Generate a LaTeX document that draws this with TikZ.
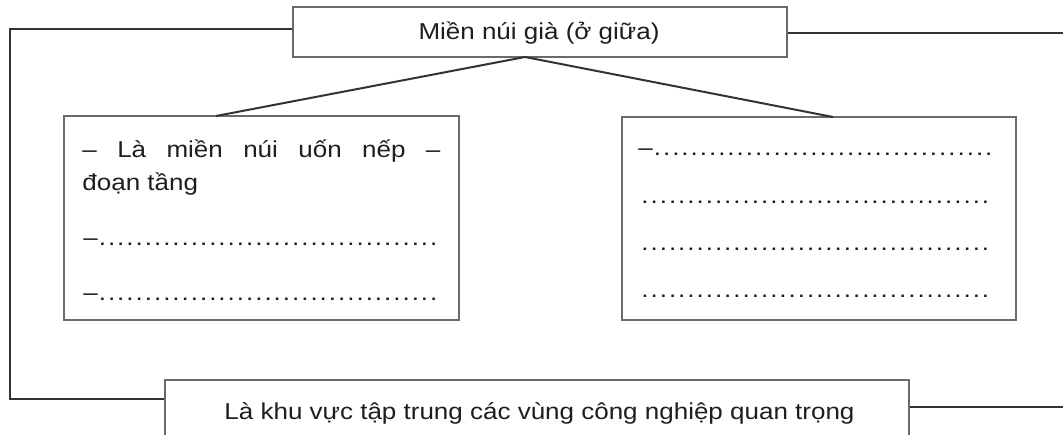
\documentclass[tikz,border=0pt]{standalone}
\usepackage{fontspec}
\setmainfont[FakeStretch=1.13]{Liberation Sans}
\definecolor{boxgray}{HTML}{6A6A6A}
\definecolor{linegray}{HTML}{333333}
\definecolor{textcol}{HTML}{1E1E1E}
\newcommand\dotrow[1]{\hbox to #1{\leaders\hbox to 4.6pt{\hss.\hss}\hfill}}
\begin{document}
\begin{tikzpicture}[x=0.5pt,y=-0.5pt,
  box/.style={draw=boxgray, line width=1pt, inner sep=0pt, fill=white},
  link/.style={draw=linegray, line width=1pt},
  txt/.style={inner sep=0pt, text=textcol, font=\fontsize{11.5}{13.5}\selectfont}]
\useasboundingbox (0,0) rectangle (1063,434);
% boxes
\node[box, minimum width=247pt, minimum height=25pt] (top) at (540,32) {};
\node[box, minimum width=197.5pt, minimum height=102pt] (left) at (261.5,218) {};
\node[box, minimum width=197pt, minimum height=101.5pt] (right) at (819,218.5) {};
\node[box, minimum width=372pt, minimum height=30pt] (bottom) at (537,410) {};
% texts
\node[txt, anchor=base] (toptext) at (539,39.5) {Miền núi già (ở giữa)};
\node[txt, anchor=base] (bottomtext) at (539.5,419.5) {Là khu vực tập trung các vùng công nghiệp quan trọng};
\node[txt, anchor=base west] (l1) at (82,157) {\hbox to 179pt{–\hfill Là\hfill miền\hfill núi\hfill uốn\hfill nếp\hfill –}};
\node[txt, anchor=base west] (l2) at (82,190) {đoạn tầng};
\node[txt, anchor=base west] (l3) at (83,245) {–\dotrow{172pt}};
\node[txt, anchor=base west] (l4) at (83,300) {–\dotrow{172pt}};
\node[txt, anchor=base west] (r1t) at (638,155) {–\dotrow{172pt}};
\node[txt, anchor=base west] (r2t) at (640,203) {\dotrow{178pt}};
\node[txt, anchor=base west] (r3t) at (640,250) {\dotrow{178pt}};
\node[txt, anchor=base west] (r4t) at (640,297) {\dotrow{178pt}};
% connector points
\coordinate (apex) at (525,57);
\coordinate (lt) at (216,116);
\coordinate (rt) at (833,117);
\coordinate (c1) at (10,29);
\coordinate (c2) at (10,399);
\coordinate (e1) at (1063,33);
\coordinate (e2) at (1063,407);
% connectors
\draw[link] (lt) -- (apex) -- (rt);
\draw[link] (top.west |- c1) -- (c1) -- (c2) -- (bottom.west |- c2);
\draw[link] (top.east |- e1) -- (e1);
\draw[link] (bottom.east |- e2) -- (e2);
\end{tikzpicture}
\end{document}
